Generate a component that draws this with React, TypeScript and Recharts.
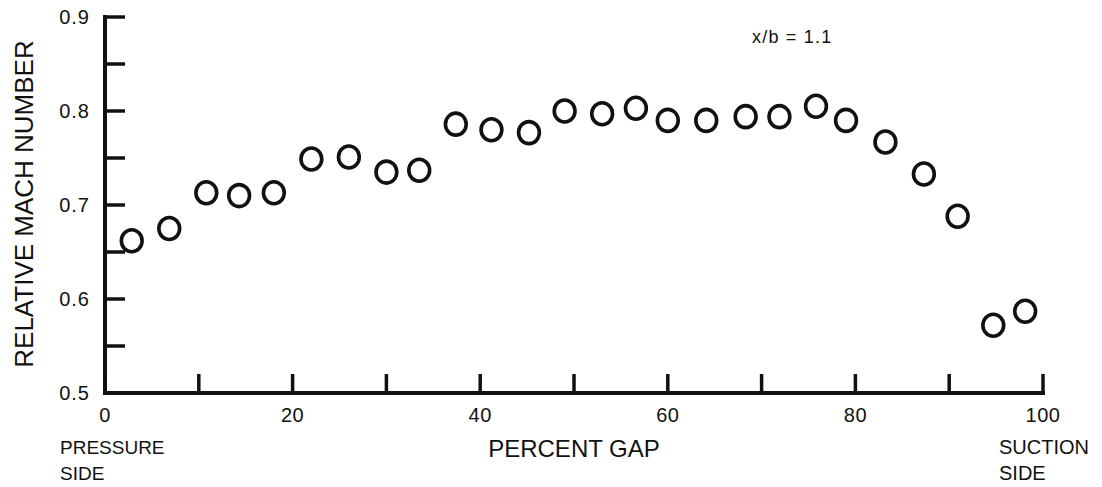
import { ScatterChart, Scatter, XAxis, YAxis } from "recharts";

const gapPercent = [
  2.85, 6.85, 10.8, 14.3, 18.0, 22.0, 26.0, 30.0, 33.5, 37.4, 41.2, 45.2, 49.0,
  53.0, 56.6, 60.0, 64.1, 68.3, 71.9, 75.8, 79.0, 83.2, 87.3, 90.9, 94.7, 98.1,
];
const machNumber = [
  0.662, 0.675, 0.713, 0.71, 0.713, 0.749, 0.751, 0.735, 0.737, 0.786, 0.78,
  0.777, 0.8, 0.797, 0.803, 0.79, 0.79, 0.794, 0.794, 0.805, 0.79, 0.767, 0.733,
  0.688, 0.572, 0.587,
];
const xTicks = [0, 10, 20, 30, 40, 50, 60, 70, 80, 90, 100];
const yTicks = [0.5, 0.55, 0.6, 0.65, 0.7, 0.75, 0.8, 0.85, 0.9];

const points = gapPercent.map((g, i) => ({ gap: g, mach: machNumber[i] }));

const FONT = '"Liberation Sans", Arial, Helvetica, sans-serif';
const INK = "#111";

const YTick = ({ x, y, payload }: any) => {
  const v = payload.value as number;
  const major = Math.round(v * 100) % 10 === 0;
  return (
    <g>
      <line x1={x} x2={x + 20} y1={y} y2={y} stroke={INK} strokeWidth={3.5} />
      {major && (
        <text
          x={x - 15}
          y={y}
          dy="0.36em"
          textAnchor="end"
          fontFamily={FONT}
          fontSize={20}
          letterSpacing={1}
          fill={INK}
        >
          {v.toFixed(1)}
        </text>
      )}
    </g>
  );
};

const XTick = ({ x, y, payload }: any) => {
  const v = payload.value as number;
  const major = v % 20 === 0;
  return (
    <g>
      <line x1={x} x2={x} y1={y} y2={y - 19} stroke={INK} strokeWidth={3.5} />
      {major && (
        <text
          x={x}
          y={y + 29}
          textAnchor="middle"
          fontFamily={FONT}
          fontSize={20}
          letterSpacing={0.5}
          fill={INK}
        >
          {v}
        </text>
      )}
    </g>
  );
};

const Ring = ({ cx, cy }: any) => (
  <ellipse cx={cx} cy={cy} rx={10.4} ry={11} fill="none" stroke={INK} strokeWidth={3.6} />
);

export default function App() {
  return (
    <div style={{ position: "absolute", left: 0, top: 0, width: 1102, height: 487, background: "#fff" }}>
      <ScatterChart
        width={1102}
        height={487}
        margin={{ top: 17, right: 59, bottom: 64, left: 45 }}
      >
        <XAxis
          type="number"
          dataKey="gap"
          domain={[0, 100]}
          ticks={xTicks}
          interval={0}
          height={30}
          tickSize={0}
          tickMargin={0}
          tickLine={false}
          axisLine={{ stroke: INK, strokeWidth: 4, strokeLinecap: "square" }}
          tick={<XTick />}
        />
        <YAxis
          type="number"
          dataKey="mach"
          domain={[0.5, 0.9]}
          ticks={yTicks}
          interval={0}
          width={60}
          tickSize={0}
          tickMargin={0}
          tickLine={false}
          axisLine={{ stroke: INK, strokeWidth: 4, strokeLinecap: "square" }}
          tick={<YTick />}
        />
        <Scatter data={points} shape={<Ring />} isAnimationActive={false} />
      </ScatterChart>
      <svg
        width={1102}
        height={487}
        style={{ position: "absolute", left: 0, top: 0, pointerEvents: "none" }}
      >
        <text
          transform="translate(33,204) rotate(-90)"
          textAnchor="middle"
          fontFamily={FONT}
          fontSize={26}
          fill={INK}
        >
          RELATIVE MACH NUMBER
        </text>
        <text x={574} y={457} textAnchor="middle" fontFamily={FONT} fontSize={24} fill={INK}>
          PERCENT GAP
        </text>
        <text x={60} y={454} fontFamily={FONT} fontSize={19} fill={INK}>
          PRESSURE
        </text>
        <text x={60} y={480} fontFamily={FONT} fontSize={19} fill={INK}>
          SIDE
        </text>
        <text x={999} y={454} fontFamily={FONT} fontSize={20} fill={INK}>
          SUCTION
        </text>
        <text x={999} y={480} fontFamily={FONT} fontSize={20} fill={INK}>
          SIDE
        </text>
        <text x={752} y={43} fontFamily={FONT} fontSize={18} letterSpacing={1.2} fill={INK}>
          x/b = 1.1
        </text>
      </svg>
    </div>
  );
}
